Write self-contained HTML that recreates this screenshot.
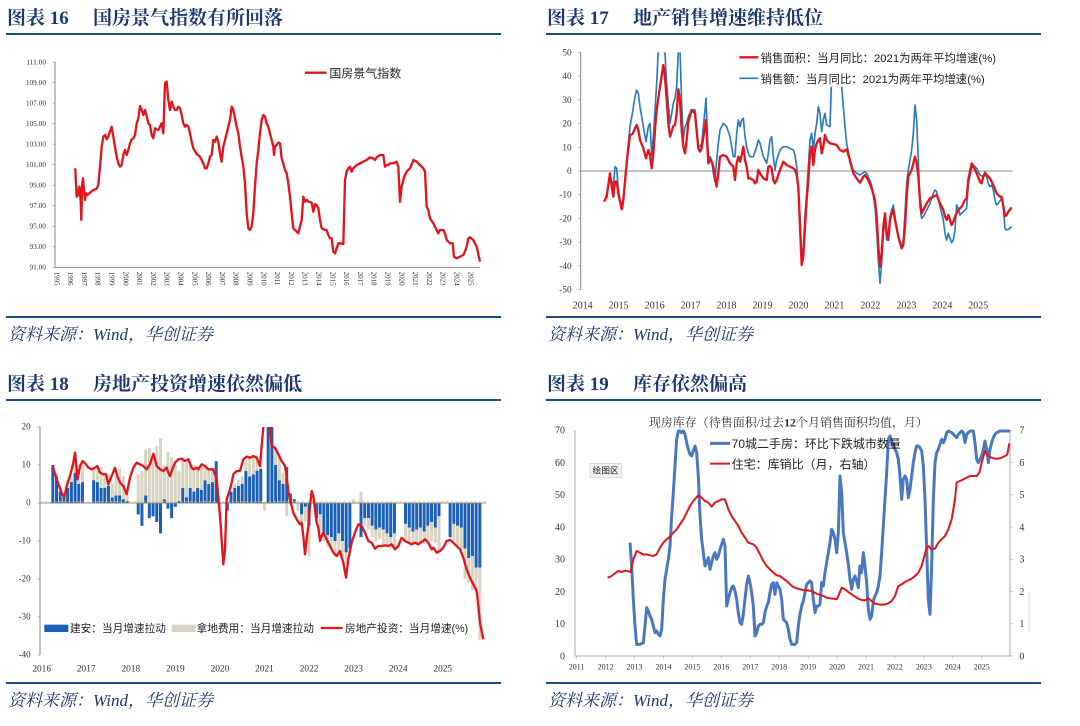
<!DOCTYPE html>
<html><head><meta charset="utf-8"><style>
html,body{margin:0;padding:0;background:#fff;}
svg{display:block;}
.ttl{font-family:"Liberation Serif","Noto Serif CJK SC",serif;font-weight:bold;fill:#1c3a70;}
.src{font-family:"Liberation Serif","Noto Serif CJK SC",serif;font-style:italic;fill:#1c3a70;}
.tk{font-family:"Liberation Serif","Noto Serif CJK SC",serif;fill:#333;}
.lg{font-family:"Liberation Sans","Noto Sans CJK SC",sans-serif;fill:#222;}
</style></head><body>
<svg id="s" width="1080" height="726" viewBox="0 0 1080 726" xmlns="http://www.w3.org/2000/svg">
<defs>
<clipPath id="c3"><rect x="100" y="183" width="1400" height="700"/></clipPath>
<clipPath id="c2"><rect x="100" y="157" width="1400" height="720"/></clipPath>
</defs>
<g>
<text class="ttl" x="7" y="24" font-size="19">图表 16<tspan x="93">国房景气指数有所回落</tspan></text>
<text class="ttl" x="547" y="24" font-size="19">图表 17<tspan x="633">地产销售增速维持低位</tspan></text>
<text class="ttl" x="7" y="390" font-size="19">图表 18<tspan x="93">房地产投资增速依然偏低</tspan></text>
<text class="ttl" x="547" y="390" font-size="19">图表 19<tspan x="633">库存依然偏高</tspan></text>
<rect x="6" y="33" width="495" height="2" fill="#1c4a8a"/>
<rect x="546" y="33" width="495" height="2" fill="#1c4a8a"/>
<rect x="6" y="399" width="495" height="2" fill="#1c4a8a"/>
<rect x="546" y="399" width="495" height="2" fill="#1c4a8a"/>
<rect x="6" y="316" width="495" height="2" fill="#1c4a8a"/>
<rect x="546" y="316" width="495" height="2" fill="#1c4a8a"/>
<rect x="6" y="682" width="495" height="2" fill="#1c4a8a"/>
<rect x="546" y="682" width="495" height="2" fill="#1c4a8a"/>
<text class="src" x="8" y="340" font-size="17">资料来源：Wind，华创证券</text>
<text class="src" x="548" y="340" font-size="17">资料来源：Wind，华创证券</text>
<text class="src" x="8" y="706" font-size="17">资料来源：Wind，华创证券</text>
<text class="src" x="548" y="706" font-size="17">资料来源：Wind，华创证券</text>
</g>

<g transform="scale(0.33333)" id="p1">
<line x1="165" y1="186" x2="165" y2="802" stroke="#888" stroke-width="3"/>
<line x1="165" y1="802" x2="1440" y2="802" stroke="#888" stroke-width="3"/>
<polyline fill="none" stroke="#e3141b" stroke-width="7" stroke-linejoin="round" points="222,510 226,508 230,590 234,585 238,560 242,600 244,660 246,560 249,535 252,570 255,600 258,580 262,585 270,578 280,570 290,566 295,555 300,500 305,440 310,410 316,405 320,418 325,410 330,395 335,380 340,410 345,440 350,470 355,490 360,500 365,495 370,465 375,450 380,465 385,450 390,430 395,418 400,415 405,405 410,370 415,355 420,318 425,330 430,345 435,330 440,348 445,370 450,375 455,405 460,415 465,385 470,388 475,390 480,380 485,370 490,400 495,250 500,245 505,300 510,330 515,305 520,320 525,330 530,330 535,320 540,325 545,345 550,370 555,380 560,375 565,380 570,400 575,425 580,445 590,462 600,470 610,490 615,505 620,505 625,490 630,470 635,465 640,420 645,425 650,410 655,425 660,460 665,485 670,440 680,400 690,360 695,320 700,330 705,355 710,380 715,400 720,440 725,470 730,500 735,550 740,640 745,685 750,690 755,680 760,640 765,560 770,490 775,450 780,400 785,360 790,345 795,350 800,370 805,380 810,400 815,420 820,440 822,465 825,440 830,435 835,428 840,430 845,475 850,490 855,510 860,520 865,550 870,590 875,640 880,685 885,690 890,695 895,700 900,680 905,660 910,590 915,605 920,600 925,605 935,608 940,635 945,612 950,615 955,625 960,660 965,685 975,690 980,690 985,705 990,715 995,715 1000,755 1005,760 1010,745 1015,730 1020,730 1030,732 1035,540 1040,515 1045,505 1050,500 1055,515 1060,505 1065,500 1070,495 1080,490 1090,485 1100,480 1110,472 1120,475 1125,480 1130,472 1140,465 1150,465 1155,500 1160,495 1165,495 1170,490 1180,490 1190,485 1195,500 1200,605 1205,560 1210,540 1215,525 1220,515 1230,505 1240,480 1250,485 1260,495 1270,505 1275,515 1280,620 1285,630 1290,655 1300,670 1310,690 1315,700 1320,690 1330,690 1335,700 1340,720 1350,730 1358,730 1362,770 1370,775 1380,770 1390,765 1395,755 1400,740 1405,715 1410,712 1420,720 1430,740 1440,785"/>
<line x1="915" y1="218" x2="980" y2="218" stroke="#e3141b" stroke-width="7"/>
<text class="lg" x="988" y="232" font-size="36">国房景气指数</text>
</g>

<g transform="translate(540,0) scale(0.33333)" id="p2">
<line x1="122" y1="157" x2="122" y2="869" stroke="#888" stroke-width="3"/>
<line x1="122" y1="513" x2="1418" y2="513" stroke="#888" stroke-width="3"/>
<polyline clip-path="url(#c2)" fill="none" stroke="#2b7bbf" stroke-width="5" stroke-linejoin="round" points="192,605 200,585 210,520 215,545 220,560 225,500 230,505 235,570 240,600 248,625 255,540 262,460 270,380 278,335 285,290 290,270 295,280 300,320 310,380 318,425 325,380 330,370 335,465 340,410 345,330 350,250 355,150 360,100 365,80 370,150 375,160 380,250 385,310 390,370 395,340 400,310 405,295 410,260 415,150 418,100 420,150 425,310 430,420 435,380 440,370 445,350 455,330 465,330 475,440 480,440 485,430 495,330 498,295 505,480 510,470 515,480 520,520 525,545 530,480 535,430 540,390 550,370 560,380 570,410 575,440 580,470 585,470 590,400 595,360 600,380 605,360 610,355 615,410 620,440 625,460 630,470 640,470 650,440 655,420 660,430 670,470 680,490 685,460 690,420 695,410 700,470 705,510 710,480 720,450 730,440 740,440 750,445 760,450 765,465 770,500 775,560 780,650 785,770 790,740 795,650 800,580 805,500 810,420 815,400 820,450 825,400 830,370 835,320 840,340 845,395 850,360 855,340 860,375 870,380 875,230 878,100 880,60 900,60 905,260 910,320 915,380 920,430 925,455 930,490 940,510 950,520 960,525 970,518 975,515 980,520 985,530 995,555 1005,620 1010,690 1015,780 1020,850 1025,790 1030,700 1035,660 1040,720 1045,700 1050,650 1055,630 1060,615 1065,650 1075,710 1085,745 1090,720 1095,640 1100,550 1105,510 1115,450 1120,400 1125,315 1130,360 1135,480 1140,620 1145,655 1150,650 1160,630 1170,610 1180,580 1185,570 1190,575 1200,620 1210,660 1215,700 1220,720 1225,700 1230,715 1235,728 1240,720 1245,690 1250,615 1255,625 1260,645 1265,640 1275,630 1280,625 1285,550 1295,505 1300,495 1310,505 1320,525 1330,530 1335,525 1340,530 1345,550 1350,560 1355,555 1360,570 1365,600 1370,615 1375,610 1385,595 1390,620 1395,685 1400,690 1405,688 1415,680"/>
<polyline fill="none" stroke="#e3141b" stroke-width="7" stroke-linejoin="round" points="192,605 200,590 210,520 215,560 220,590 225,545 230,545 235,580 245,628 250,600 255,545 262,470 270,405 278,402 285,385 290,375 295,390 300,420 310,445 318,475 325,450 330,465 335,505 340,460 345,390 350,330 360,260 370,195 375,230 380,300 385,370 390,410 395,395 400,378 405,375 410,340 415,268 420,300 425,390 430,440 435,460 440,420 445,365 455,330 465,340 475,445 480,455 485,445 495,380 498,360 505,490 510,480 515,485 520,500 525,530 530,560 535,520 540,470 550,465 560,470 570,490 580,500 585,540 590,490 595,470 600,485 605,465 610,440 615,480 620,500 625,535 630,535 640,540 645,550 650,545 655,510 660,520 670,535 680,540 685,500 690,498 695,505 700,540 705,550 710,540 720,510 730,485 740,495 750,500 760,505 765,510 770,525 775,560 780,680 785,795 790,770 795,680 800,600 805,540 810,460 815,440 820,495 825,450 830,430 835,420 840,415 845,460 850,440 855,405 860,420 870,430 880,432 890,435 900,450 910,455 920,448 930,480 940,520 950,535 960,548 965,540 970,530 975,525 985,540 995,565 1005,600 1010,650 1015,740 1020,800 1025,760 1030,680 1035,640 1040,700 1045,720 1050,660 1055,640 1060,630 1065,660 1075,710 1085,745 1090,735 1095,680 1100,590 1105,530 1115,510 1120,490 1125,470 1130,490 1135,530 1140,600 1145,640 1150,630 1160,610 1170,595 1180,590 1190,585 1200,610 1210,630 1215,650 1220,660 1225,645 1230,660 1235,675 1240,665 1245,650 1255,630 1265,620 1275,600 1280,595 1285,540 1295,490 1300,500 1310,520 1320,545 1325,550 1330,530 1335,518 1340,525 1350,535 1360,555 1370,580 1380,590 1385,590 1395,648 1400,645 1405,635 1415,622"/>
<rect x="585" y="140" width="780" height="120" fill="#fff"/>
<line x1="598" y1="172" x2="655" y2="172" stroke="#e3141b" stroke-width="7"/>
<text class="lg" x="662" y="186" font-size="34">销售面积：当月同比：2021为两年平均增速(%)</text>
<line x1="598" y1="235" x2="655" y2="235" stroke="#2b7bbf" stroke-width="5"/>
<text class="lg" x="662" y="249" font-size="34">销售额：当月同比：2021为两年平均增速(%)</text>
</g>

<g transform="translate(0,366) scale(0.33333)" id="p3">
<g id="bars"></g>
<line x1="120" y1="183" x2="120" y2="867" stroke="#888" stroke-width="3"/>
<line x1="120" y1="411" x2="1458" y2="411" stroke="#888" stroke-width="3"/>
<line x1="120" y1="407" x2="1458" y2="407" stroke="#e8c84a" stroke-width="2" stroke-dasharray="8,6"/>
<polyline clip-path="url(#c3)" fill="none" stroke="#e3141b" stroke-width="7" stroke-linejoin="round" points="158,300 170,340 185,380 193,395 200,360 210,330 220,290 225,260 228,290 233,340 240,300 248,285 258,295 265,305 275,310 285,305 292,300 300,320 310,325 318,325 325,355 335,330 345,305 352,330 360,350 370,360 380,385 390,335 400,305 410,290 420,295 430,300 440,310 450,295 460,263 465,280 470,300 480,310 490,315 500,305 505,320 510,330 515,315 525,290 535,280 545,278 555,285 565,280 575,305 580,310 590,305 595,310 605,295 615,300 625,310 635,310 640,310 650,340 660,450 670,595 675,550 680,400 690,370 695,350 700,325 705,320 710,315 720,315 730,280 740,272 750,275 760,270 770,275 780,300 785,240 790,183 800,130 810,183 815,240 825,245 835,265 845,285 855,300 860,330 865,375 870,400 875,420 880,440 890,460 900,475 905,470 910,510 915,565 920,520 925,480 930,420 935,375 940,390 945,430 950,470 955,485 960,525 965,510 970,500 980,520 990,540 1000,560 1010,570 1020,555 1030,590 1038,635 1045,580 1055,530 1065,500 1075,475 1085,480 1095,500 1105,525 1115,530 1125,548 1135,540 1145,540 1155,538 1165,540 1175,535 1185,550 1195,540 1205,515 1215,525 1225,530 1235,535 1245,530 1255,535 1265,528 1275,520 1285,530 1295,550 1300,545 1310,560 1320,555 1330,545 1340,525 1350,522 1360,530 1370,540 1380,550 1390,575 1400,610 1410,635 1420,655 1430,675 1435,720 1440,770 1450,820"/>
<rect x="133" y="776" width="72" height="22" fill="#1a5fb8"/>
<text class="lg" x="210" y="798" font-size="32">建安：当月增速拉动</text>
<rect x="515" y="776" width="72" height="22" fill="#d9d4c2"/>
<text class="lg" x="590" y="798" font-size="32">拿地费用：当月增速拉动</text>
<line x1="962" y1="786" x2="1028" y2="786" stroke="#e3141b" stroke-width="7"/>
<text class="lg" x="1035" y="798" font-size="32">房地产投资：当月增速(%)</text>
</g>

<g transform="translate(540,366) scale(0.33333)" id="p4">
<line x1="105" y1="193" x2="105" y2="870" stroke="#aaa" stroke-width="3"/>
<line x1="1410" y1="193" x2="1410" y2="870" stroke="#aaa" stroke-width="3"/>
<line x1="105" y1="870" x2="1410" y2="870" stroke="#aaa" stroke-width="3"/>
<rect x="1464" y="680" width="8" height="115" fill="#eef0f4"/>
<polyline fill="none" stroke="#4a78c0" stroke-width="9" stroke-linejoin="round" points="270,530 275,600 280,700 285,780 290,835 300,835 310,830 315,780 320,725 325,735 330,750 335,760 340,780 345,800 350,795 355,805 360,810 365,790 370,700 375,640 380,610 385,580 390,540 395,450 400,380 405,300 410,220 415,195 420,195 425,200 430,195 435,205 440,230 445,250 450,265 455,270 460,255 465,240 470,260 475,330 480,450 485,520 490,560 495,600 500,590 505,575 510,610 515,590 520,570 525,560 530,580 535,570 540,550 545,535 550,520 555,540 560,720 565,700 570,680 575,665 580,660 585,675 590,700 595,740 600,770 605,775 610,745 615,700 620,655 625,630 630,650 635,680 640,720 645,810 650,800 655,780 660,775 665,775 670,770 675,740 680,720 685,710 690,680 695,655 700,650 705,685 710,650 715,660 720,670 725,700 730,760 735,765 740,770 745,790 750,820 755,835 760,835 765,835 770,830 775,780 780,745 785,720 790,705 795,680 800,655 805,650 810,645 815,650 820,700 825,740 830,720 835,720 840,715 845,650 850,660 855,620 860,590 865,560 870,530 875,490 880,500 885,520 890,560 895,500 900,330 905,380 910,500 915,530 920,560 925,595 930,640 935,670 940,640 945,630 950,645 955,665 960,600 965,620 970,560 975,600 980,650 985,730 990,760 995,750 1000,705 1005,690 1010,680 1015,660 1020,630 1025,560 1030,480 1035,400 1040,320 1045,220 1050,210 1055,225 1060,240 1065,250 1070,260 1075,280 1080,330 1085,400 1090,340 1095,330 1100,340 1105,395 1110,370 1115,330 1120,290 1125,260 1130,240 1135,240 1140,245 1145,255 1150,300 1155,400 1160,550 1165,700 1170,745 1175,600 1180,400 1185,290 1190,260 1195,250 1200,235 1205,220 1210,230 1215,220 1220,200 1225,195 1235,200 1245,210 1250,215 1255,205 1260,200 1265,195 1270,200 1275,230 1280,205 1285,200 1290,195 1300,195 1305,230 1310,280 1315,290 1320,280 1325,270 1330,250 1335,225 1340,250 1345,290 1350,250 1355,230 1360,215 1365,205 1370,200 1380,195 1390,195 1410,195"/>
<polyline fill="none" stroke="#e3141b" stroke-width="6" stroke-linejoin="round" points="203,635 215,630 225,622 235,615 245,618 255,614 265,616 272,618 280,580 290,555 300,560 310,566 320,565 330,568 340,570 350,565 360,545 370,530 380,520 390,512 400,500 410,490 420,475 430,460 440,440 450,420 460,405 475,388 485,395 495,405 505,410 515,422 525,410 535,405 545,400 555,400 565,430 575,450 585,465 595,480 605,500 615,515 625,530 640,535 650,545 660,565 670,585 680,600 690,610 700,620 710,628 720,630 730,638 740,645 750,655 760,663 770,667 780,670 790,672 800,673 810,674 820,678 830,683 840,687 850,690 860,695 870,697 880,698 890,700 895,690 905,665 915,670 925,678 935,685 945,692 955,698 965,702 975,703 985,697 995,705 1005,713 1015,715 1025,716 1035,715 1045,712 1055,705 1065,690 1075,660 1085,655 1095,648 1105,643 1115,638 1125,630 1135,620 1145,600 1160,545 1165,540 1175,550 1185,548 1195,530 1205,520 1215,510 1225,490 1235,460 1245,400 1250,350 1260,345 1270,340 1280,335 1290,330 1300,330 1310,330 1318,320 1325,290 1335,255 1345,270 1355,275 1365,278 1375,278 1385,275 1395,270 1402,265 1408,232"/>
<text class="tk" x="745" y="182" font-size="36" text-anchor="middle" fill="#222">现房库存（待售面积/过去<tspan font-weight="bold">12</tspan>个月销售面积均值，月）</text>
<line x1="510" y1="232" x2="570" y2="232" stroke="#4a78c0" stroke-width="9"/>
<text class="lg" x="575" y="246" font-size="36">70城二手房：环比下跌城市数量</text>
<line x1="510" y1="293" x2="570" y2="293" stroke="#e3141b" stroke-width="6"/>
<text class="lg" x="575" y="307" font-size="36">住宅：库销比（月，右轴）</text>
<rect x="150" y="292" width="95" height="42" fill="#f4f4f4" stroke="#ccc" stroke-width="2"/>
<text class="lg" x="197" y="322" font-size="26" text-anchor="middle" fill="#777">绘图区</text>
</g>
</svg>
<script>
var NS="http://www.w3.org/2000/svg";
function el(p,t,a,txt){var e=document.createElementNS(NS,t);for(var k in a)e.setAttribute(k,a[k]);if(txt!==undefined)e.textContent=txt;p.appendChild(e);return e;}
var p1=document.getElementById('p1'),p2=document.getElementById('p2'),p3=document.getElementById('p3'),p4=document.getElementById('p4');
for(var i=0;i<=10;i++){var v=111-2*i,y=186+i*61.6;el(p1,'text',{x:138,y:y+7,'font-size':22,'text-anchor':'end',class:'tk'},v.toFixed(2));el(p1,'line',{x1:158,y1:y,x2:165,y2:y,stroke:'#888','stroke-width':2});}
for(var yr=1995;yr<=2025;yr++){var x=170+(yr-1995)*41.4;el(p1,'text',{x:0,y:0,'font-size':21,class:'tk',transform:'translate('+(x-7)+',815) rotate(90)'},yr);}
for(var i=0;i<=10;i++){var v=50-10*i,y=157+i*71.2;el(p2,'text',{x:95,y:y+9,'font-size':28,'text-anchor':'end',class:'tk'},v);el(p2,'line',{x1:115,y1:y,x2:122,y2:y,stroke:'#888','stroke-width':2});}
for(var yr=2014;yr<=2025;yr++){var x=128+(yr-2014)*107.9;el(p2,'text',{x:x,y:925,'font-size':30,'text-anchor':'middle',class:'tk'},yr);}
for(var i=0;i<=6;i++){var v=20-10*i,y=183+i*114;el(p3,'text',{x:92,y:y+8,'font-size':27,'text-anchor':'end',class:'tk'},v);el(p3,'line',{x1:113,y1:y,x2:120,y2:y,stroke:'#888','stroke-width':2});}
for(var yr=2016;yr<=2025;yr++){var x=125+(yr-2016)*133.7;el(p3,'text',{x:x,y:917,'font-size':28,'text-anchor':'middle',class:'tk'},yr);}
var B={3:[10,0],4:[7,1],5:[3,1],6:[2,0],7:[4,2],8:[5.5,1],9:[8,5],10:[5,1],11:[5.5,5],
14:[6,3],15:[5.5,3],16:[4,5.5],17:[4,3],18:[4.5,3],19:[1.5,3.5],20:[2,5],21:[2,7],22:[1,6],23:[0.5,1.5],
26:[-3,7.5],27:[-6,8.5],28:[2,12],29:[-4,14.5],30:[-3.5,13],31:[-5,15],32:[-8,17],33:[1,9],34:[-1.5,13.5],35:[-4,12],36:[-1,10],37:[0.5,8],
38:[4,8],39:[1.5,10],40:[4,6],41:[3,7],42:[4,5],43:[3.5,6],44:[6,4],45:[5,4],46:[5.5,3.5],47:[11,0],48:[0,-3],
50:[-2,0],51:[3,0],52:[4,1],53:[4.5,1.5],54:[5,2],55:[8.5,3],56:[7,5],57:[7.5,5],58:[8.5,4],59:[9,1],60:[0,-2],
61:[20,0],62:[20,0],63:[10,4.5],64:[6,6],65:[5,3],66:[9.5,-3.5],67:[2.5,0],68:[1,0],69:[0,-2],70:[-3,-2],71:[-1,-4],72:[-6,-8],
74:[-4,-1],75:[-3,-5],76:[-8,-2],77:[-8.5,-3],78:[-9,-3],79:[-10,-4],80:[-8,-6],81:[-10,-4],82:[-13,-3],83:[-12,-2],84:[0,1],
86:[-9,3],87:[-4,-2],88:[-4,-3],89:[-6,-3],90:[-7,-3],91:[-6.5,-3],92:[-7,-4],93:[-8,-3],94:[-9,-3],95:[-8,-4],
98:[-5.5,-4],99:[-6.5,-4],100:[-7.5,-3],101:[-7,-3.5],102:[-6.5,-4],103:[-7.5,-3],104:[-6,-4],105:[-5,-5],106:[-6.5,-4],107:[-3.5,-9],
110:[-9,-1],111:[-5.5,-4.5],112:[-6,-5],113:[-6.5,-6],114:[-12,-8],115:[-14.5,-6.5],116:[-14,-9],117:[-17,-6],118:[-17,-19]};
var bars=document.getElementById('bars');
function Y(v){return 411-v*11.4;}
for(var k in B){var i=+k,b=B[k][0],g=B[k][1],x=125+i*11.14-4.5;
 var pos=0,neg=0;
 function seg(v,c){var y0,y1;if(v>=0){y0=Y(pos+v);y1=Y(pos);pos+=v;}else{y0=Y(neg);y1=Y(neg+v);neg+=v;}y0=Math.max(y0,183);if(y1>y0)el(bars,'rect',{x:x,y:y0,width:9,height:y1-y0,fill:c});}
 seg(b,'#1a5fb8');seg(g,'#d9d4c2');}
for(var i=0;i<=7;i++){var v=70-10*i,y=193+i*96.7;el(p4,'text',{x:75,y:y+10,'font-size':30,'text-anchor':'end',class:'tk'},v);el(p4,'text',{x:1438,y:y+10,'font-size':30,class:'tk'},7-i);el(p4,'line',{x1:1410,y1:y,x2:1418,y2:y,stroke:'#aaa','stroke-width':2});}
for(var yr=2011;yr<=2025;yr++){var x=110+(yr-2011)*86.8;el(p4,'text',{x:x,y:910,'font-size':24,'text-anchor':'middle',class:'tk'},yr);el(p4,'line',{x1:x,y1:870,x2:x,y2:877,stroke:'#aaa','stroke-width':2});}
</script>
</body></html>
